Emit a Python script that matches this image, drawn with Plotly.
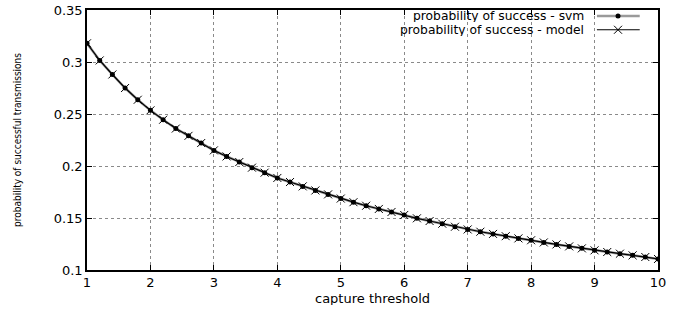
import plotly.graph_objects as go

# data
capture_threshold = [1.0, 1.2, 1.4, 1.6, 1.8, 2.0, 2.2, 2.4, 2.6, 2.8,
                     3.0, 3.2, 3.4, 3.6, 3.8, 4.0, 4.2, 4.4, 4.6, 4.8,
                     5.0, 5.2, 5.4, 5.6, 5.8, 6.0, 6.2, 6.4, 6.6, 6.8,
                     7.0, 7.2, 7.4, 7.6, 7.8, 8.0, 8.2, 8.4, 8.6, 8.8,
                     9.0, 9.2, 9.4, 9.6, 9.8, 10.0]
prob_svm = [0.318, 0.3015, 0.288, 0.275, 0.2637, 0.2535, 0.2445, 0.236, 0.229, 0.2221,
            0.215, 0.2092, 0.2038, 0.1984, 0.1936, 0.1885, 0.1846, 0.1804, 0.1765, 0.1727,
            0.1687, 0.1652, 0.1618, 0.1587, 0.1558, 0.1529, 0.1497, 0.1471, 0.1445, 0.1416,
            0.139, 0.1368, 0.1347, 0.1325, 0.1304, 0.1286, 0.1265, 0.1246, 0.1227, 0.1208,
            0.1189, 0.1173, 0.1157, 0.1141, 0.1125, 0.1106]
prob_model = [0.318, 0.3015, 0.288, 0.275, 0.2637, 0.2535, 0.2445, 0.236, 0.229, 0.2221,
              0.215, 0.2092, 0.2038, 0.1984, 0.1936, 0.1885, 0.1846, 0.1804, 0.1765, 0.1727,
              0.1687, 0.1652, 0.1618, 0.1587, 0.1558, 0.1529, 0.1497, 0.1471, 0.1445, 0.1416,
              0.139, 0.1368, 0.1347, 0.1325, 0.1304, 0.1286, 0.1265, 0.1246, 0.1227, 0.1208,
              0.1189, 0.1173, 0.1157, 0.1141, 0.1125, 0.1106]
series_names = ["probability of success - svm", "probability of success - model"]
x_title = "capture threshold"
y_title = "probability of successful transmissions"
x_ticks = [1, 2, 3, 4, 5, 6, 7, 8, 9, 10]
y_ticks = [0.1, 0.15, 0.2, 0.25, 0.3, 0.35]
y_tick_labels = ["0.1", "0.15", "0.2", "0.25", "0.3", "0.35"]

FONT = "DejaVu Sans, Liberation Sans, sans-serif"
SVM_COLOR = "#9a9a9a"

fig = go.Figure()
fig.add_trace(go.Scatter(
    x=capture_threshold, y=prob_svm, mode="lines+markers", name=series_names[0],
    line=dict(color=SVM_COLOR, width=2.5),
    marker=dict(symbol="circle", size=5, color="black"),
    showlegend=False))
fig.add_trace(go.Scatter(
    x=capture_threshold, y=prob_model, mode="lines+markers", name=series_names[1],
    line=dict(color="black", width=1.2),
    marker=dict(symbol="x-thin", size=8, line=dict(color="black", width=1)),
    showlegend=False))

# manual gnuplot-style legend (text right, sample on the right)
leg_x0, leg_x1, leg_xm = 0.893, 0.968, 0.930
leg_y = [0.977, 0.924]
fig.add_trace(go.Scatter(x=[leg_x0, leg_x1], y=[leg_y[0]] * 2, mode="lines",
                         line=dict(color=SVM_COLOR, width=2.5), xaxis="x2", yaxis="y2",
                         showlegend=False, hoverinfo="skip"))
fig.add_trace(go.Scatter(x=[leg_xm], y=[leg_y[0]], mode="markers",
                         marker=dict(symbol="circle", size=5, color="black"),
                         xaxis="x2", yaxis="y2", showlegend=False, hoverinfo="skip"))
fig.add_trace(go.Scatter(x=[leg_x0, leg_x1], y=[leg_y[1]] * 2, mode="lines",
                         line=dict(color="black", width=1.2), xaxis="x2", yaxis="y2",
                         showlegend=False, hoverinfo="skip"))
fig.add_trace(go.Scatter(x=[leg_xm], y=[leg_y[1]], mode="markers",
                         marker=dict(symbol="x-thin", size=8, line=dict(color="black", width=1)),
                         xaxis="x2", yaxis="y2", showlegend=False, hoverinfo="skip"))
for name, yy in zip(series_names, leg_y):
    fig.add_annotation(x=0.872, y=yy, xref="paper", yref="paper", text=name,
                       showarrow=False, xanchor="right", yanchor="middle",
                       height=13, borderpad=0,
                       font=dict(family=FONT, size=12.3, color="black"))

# x-axis title placed like gnuplot's
fig.add_annotation(x=0.5, y=-0.106, xref="paper", yref="paper", text=x_title,
                   showarrow=False, xanchor="center", yanchor="middle",
                   height=14, borderpad=0,
                   font=dict(family=FONT, size=13, color="black"))

fig.update_layout(
    width=691, height=309,
    margin=dict(l=87, r=33, t=10, b=39, autoexpand=False),
    paper_bgcolor="white", plot_bgcolor="white",
    font=dict(family=FONT, size=13, color="black"),
    xaxis=dict(range=[1, 10], tickvals=x_ticks, ticks="inside", ticklen=5,
               tickcolor="black", showline=True, linecolor="black", linewidth=1.5,
               mirror="allticks", showgrid=True, gridcolor="#8a8a8a", griddash="dot",
               gridwidth=1, zeroline=False, automargin=False),
    yaxis=dict(range=[0.1, 0.35], tickvals=y_ticks, ticktext=y_tick_labels,
               ticks="inside", ticklen=5, tickcolor="black", showline=True,
               linecolor="black", linewidth=1.5, mirror="allticks", showgrid=True,
               gridcolor="#8a8a8a", griddash="dot", gridwidth=1, zeroline=False,
               automargin=False,
               title=dict(text=y_title, standoff=30,
                          font=dict(family="DejaVu Sans Condensed, Liberation Sans Narrow, DejaVu Sans", size=10))),
    xaxis2=dict(range=[0, 1], overlaying="x", visible=False, fixedrange=True),
    yaxis2=dict(range=[0, 1], overlaying="y", visible=False, fixedrange=True),
)

fig.write_html("out.html", config={"displayModeBar": False},
               post_script="document.body.style.margin='0px';document.body.style.overflow='hidden';")
